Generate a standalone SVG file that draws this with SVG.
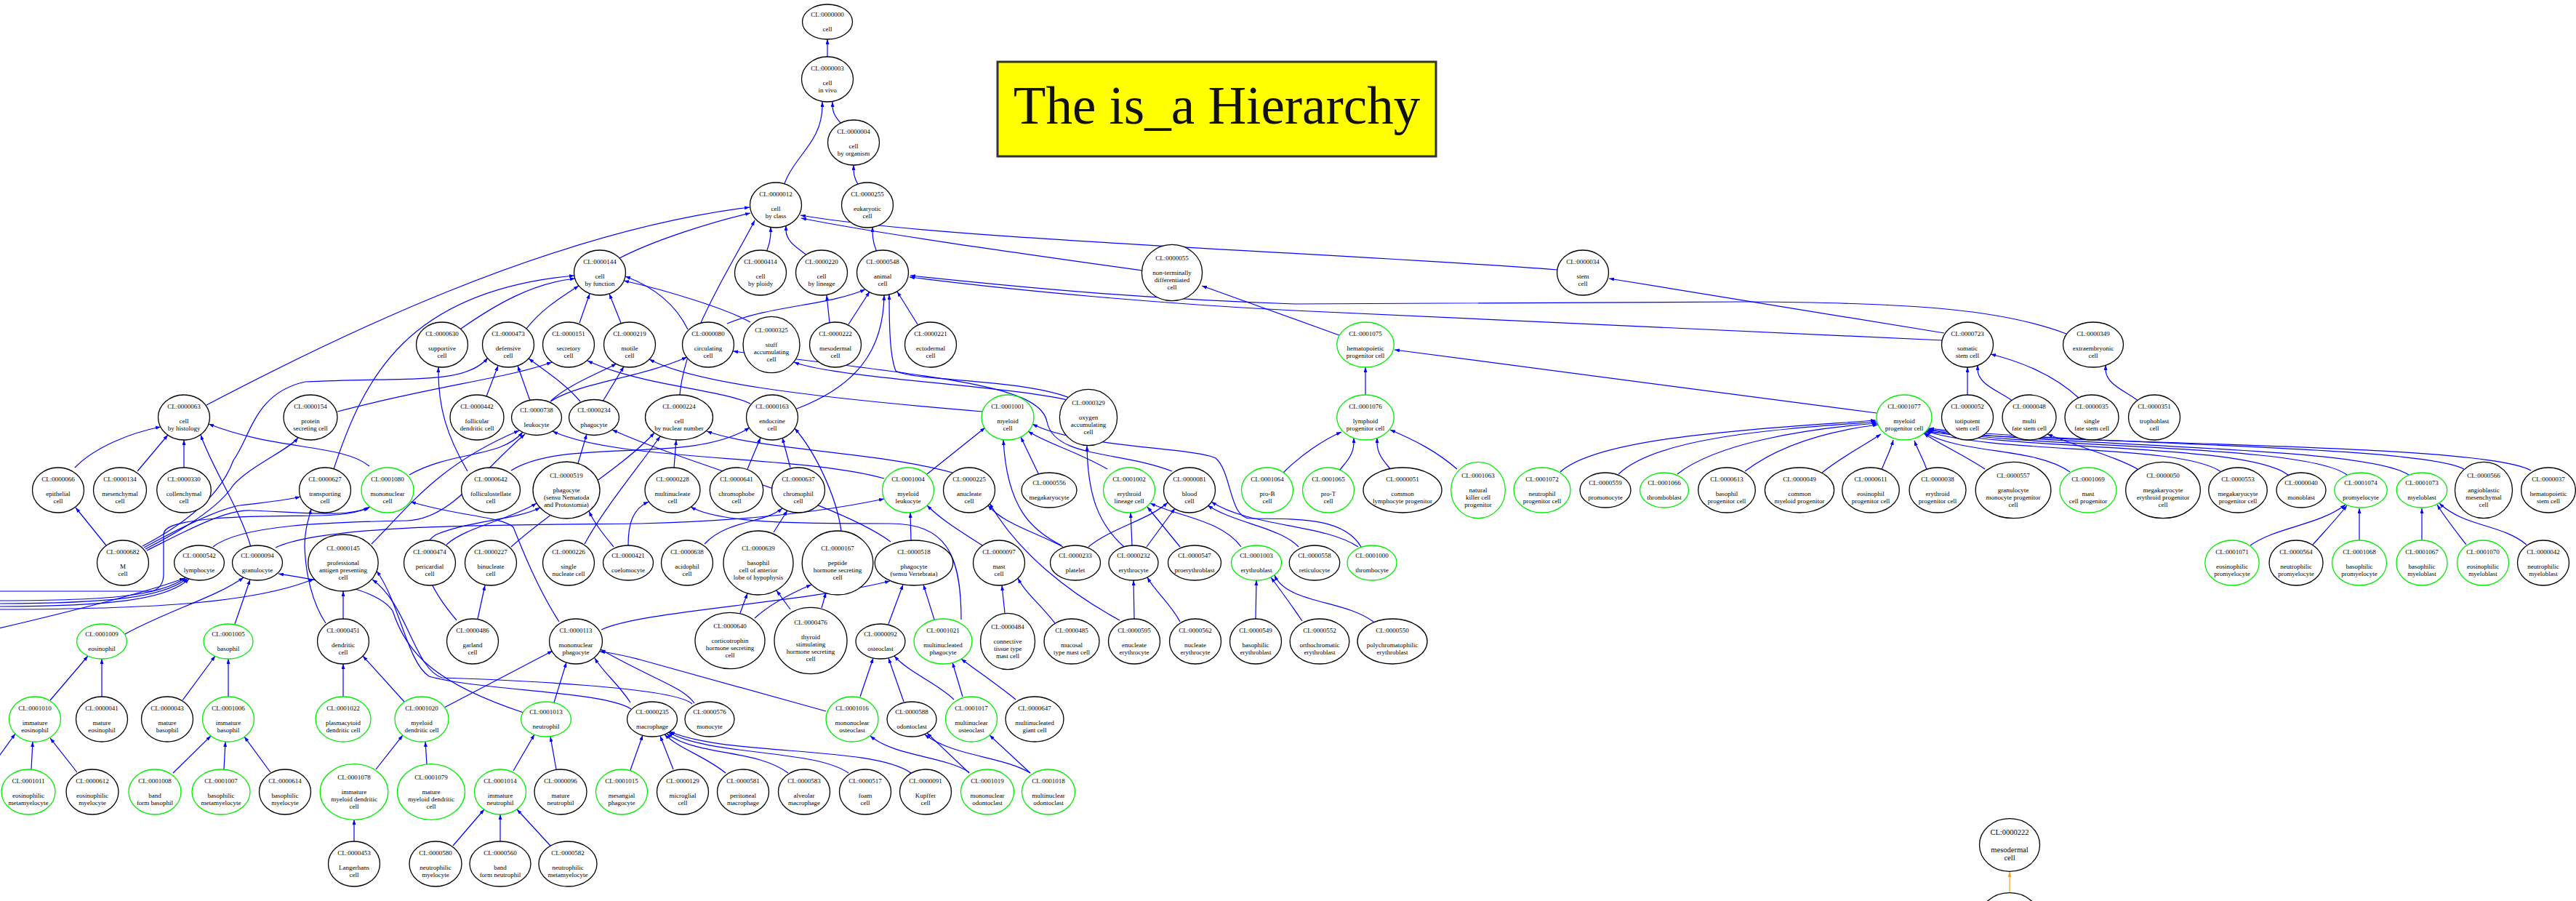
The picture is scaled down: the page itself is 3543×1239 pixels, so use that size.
<svg xmlns="http://www.w3.org/2000/svg" width="3543" height="1239" viewBox="0 0 3543 1239">
<defs>
<marker id="ah" viewBox="0 0 10 10" refX="10" refY="5" markerWidth="7" markerHeight="5" preserveAspectRatio="none" markerUnits="userSpaceOnUse" orient="auto"><path d="M0,0 L10,5 L0,10 z" fill="#0000ff"/></marker>
<marker id="ao" viewBox="0 0 10 10" refX="10" refY="5" markerWidth="7" markerHeight="5" preserveAspectRatio="none" markerUnits="userSpaceOnUse" orient="auto"><path d="M0,0 L10,5 L0,10 z" fill="#ffa500"/></marker>
</defs>
<style>
.e path{fill:none;stroke:#0000ff;stroke-width:1.2;marker-end:url(#ah)}
.e path.o{stroke:#ffa500;marker-end:url(#ao)}
.n ellipse{fill:#fff;stroke:#000;stroke-width:1.3}
.g ellipse{fill:#fff;stroke:#00ee00;stroke-width:1.3}
text{font-family:"Liberation Serif","Times New Roman",serif;font-size:9px;text-anchor:middle;fill:#000}
.big text{font-size:10.5px}
</style>
<rect width="3543" height="1239" fill="#fff"/>
<g id="title"><rect x="1372" y="85" width="603" height="130" fill="#ffff00" stroke="#333" stroke-width="3"/><text x="1673.5" y="170" style="font-size:73px;fill:#111">The is_a Hierarchy</text></g>
<g id="edges" class="e">
<path d="M1138,109 L1138,54"/>
<path d="M1170,196 C1170,173 1145,168 1145,145 L1145,140"/>
<path d="M1074,282 C1074,220 1131,207 1131,145 L1131,140"/>
<path d="M1191,282 C1191,260 1174,255 1174,233 L1174,227"/>
<path d="M1212,375 C1212,349 1200,344 1200,318 L1200,312"/>
<path d="M1048,375 C1048,349 1060,344 1060,318 L1060,312"/>
<path d="M1124,375 C1124,348 1081,343 1081,316 L1081,310"/>
<path d="M852,355 C900,330 980,305 1032,293"/>
<path d="M284,557 C450,470 750,320 1031,285"/>
<path d="M934,560 C934,470 1010,360 1038,303"/>
<path d="M1571,372 C1400,348 1200,320 1102,300"/>
<path d="M2142,371 C1800,345 1300,330 1101,296"/>
<path d="M2674,458 L2213,383"/>
<path d="M2672,468 L1780,427 C1600,418 1400,400 1251,381"/>
<path d="M2842,459 C2760,428 2650,416 2400,415 L1780,418 C1600,412 1450,400 1252,379"/>
<path d="M2706,574 L2706,505"/>
<path d="M2783,574 C2783,544 2720,538 2720,508 L2720,502"/>
<path d="M2860,548 C2830,520 2790,500 2738,487"/>
<path d="M2955,574 C2955,544 2896,538 2896,508 L2896,502"/>
<path d="M1842,461 L1653,393"/>
<path d="M1878,574 L1878,505"/>
<path d="M2581,568 L1918,481"/>
<path d="M1765,650 C1790,625 1820,605 1845,594"/>
<path d="M1832,674 C1832,644 1862,638 1862,608 L1862,602"/>
<path d="M1924,674 C1924,644 1894,638 1894,608 L1894,602"/>
<path d="M2004,645 C1975,620 1945,605 1912,591"/>
<path d="M2146,649 C2200,600 2420,590 2580,578"/>
<path d="M2226,652 C2280,600 2450,590 2581,580"/>
<path d="M2307,652 C2360,610 2480,590 2582,582"/>
<path d="M2400,648 C2450,610 2520,592 2583,584"/>
<path d="M2506,650 C2530,630 2560,615 2587,597"/>
<path d="M2588,646 C2594,630 2600,620 2604,605"/>
<path d="M2650,646 C2645,630 2638,620 2633,606"/>
<path d="M2730,645 C2700,625 2670,612 2646,596"/>
<path d="M2847,649 C2800,615 2700,625 2647,595"/>
<path d="M2940,645 C2910,628 2860,615 2816,597"/>
<path d="M3055,649 C3000,610 2750,625 2649,593"/>
<path d="M3147,653 C3090,610 2780,620 2650,592"/>
<path d="M3228,653 C3170,610 2800,618 2651,591"/>
<path d="M3313,653 C3250,612 2820,615 2652,590"/>
<path d="M3389,645 C3330,612 2850,612 2653,589"/>
<path d="M3481,647 C3420,610 2880,612 2648,594"/>
<path d="M3095,750 C3130,725 3190,722 3226,694"/>
<path d="M3181,749 C3195,733 3210,718 3228,695"/>
<path d="M3245,774 L3245,699"/>
<path d="M3331,774 L3331,699"/>
<path d="M3392,749 C3380,733 3365,715 3352,694"/>
<path d="M3475,749 C3440,720 3390,725 3355,692"/>
<path d="M634,452 C680,420 730,390 791,383"/>
<path d="M459,645 C500,520 560,400 790,379"/>
<path d="M724,452 C745,425 770,410 796,393"/>
<path d="M797,444 L811,404"/>
<path d="M854,444 L838,404"/>
<path d="M946,453 C930,420 900,395 860,380"/>
<path d="M1032,443 C1000,425 920,400 858,386"/>
<path d="M103,643 C130,615 180,595 221,587"/>
<path d="M189,648 L231,598"/>
<path d="M253,674 L253,605"/>
<path d="M345,752 C330,700 290,640 276,598"/>
<path d="M508,641 C470,610 380,620 287,583"/>
<path d="M146,750 L104,698"/>
<path d="M198,753 C240,730 300,700 330,695 C370,690 395,688 413,683"/>
<path d="M200,755 C245,732 300,700 321,667 C345,640 395,620 410,602"/>
<path d="M202,757 C250,733 310,700 345,702 C420,705 480,712 509,697"/>
<path d="M196,751 C240,728 300,690 321,633 C345,600 350,540 420,525 C560,518 640,530 671,492"/>
<path d="M-10,813 L205,813 C220,813 225,800 225,790 L225,735 C225,725 240,718 296,713 C400,705 470,716 507,698"/>
<path d="M-10,826 C150,826 220,820 256,794"/>
<path d="M-10,830 C150,830 225,822 258,795"/>
<path d="M-10,834 C150,834 230,825 260,796"/>
<path d="M-10,838 C200,838 350,830 432,796"/>
<path d="M-5,1045 L21,1009"/>
<path d="M-10,866 C80,845 200,815 254,795"/>
<path d="M643,648 C615,600 602,560 603,505"/>
<path d="M703,647 C780,600 950,640 1031,588"/>
<path d="M669,545 L685,503"/>
<path d="M729,551 L712,503"/>
<path d="M798,552 C780,530 750,510 727,493"/>
<path d="M464,566 C600,530 700,520 759,498"/>
<path d="M1032,555 C990,535 880,530 808,496"/>
<path d="M758,551 C780,530 820,515 848,500"/>
<path d="M829,552 L858,504"/>
<path d="M1351,566 C1100,545 950,525 893,494"/>
<path d="M757,552 C800,525 880,520 945,491"/>
<path d="M1612,648 C1540,620 1450,630 1440,580 C1430,530 1300,520 1008,483"/>
<path d="M563,653 C620,620 690,630 719,594"/>
<path d="M1216,658 C1100,625 850,635 760,593"/>
<path d="M293,752 C330,722 450,718 560,716 C620,714 660,650 722,597"/>
<path d="M511,748 C560,700 600,640 714,592"/>
<path d="M795,637 L807,597"/>
<path d="M1225,745 C1150,690 950,640 842,591"/>
<path d="M1000,445 C1060,420 1140,420 1190,398"/>
<path d="M1141,444 L1137,406"/>
<path d="M1167,446 L1196,401"/>
<path d="M1262,446 L1234,401"/>
<path d="M1096,562 C1180,530 1215,480 1216,406"/>
<path d="M1471,547 C1400,520 1260,525 1232,510 C1224,490 1223,450 1223,405"/>
<path d="M1468,550 C1380,530 1150,520 1092,498"/>
<path d="M1546,752 C1510,720 1496,680 1495,613"/>
<path d="M927,643 L930,605"/>
<path d="M1310,650 C1200,620 1050,620 972,593"/>
<path d="M804,748 C830,700 880,640 908,600"/>
<path d="M703,752 C760,700 860,640 900,595"/>
<path d="M1322,852 C1322,760 1300,720 1224,720 C1100,720 990,720 950,697"/>
<path d="M864,750 C864,720 870,700 892,690"/>
<path d="M1028,645 L1046,602"/>
<path d="M1087,643 L1076,602"/>
<path d="M1157,730 C1150,680 1120,620 1093,589"/>
<path d="M969,748 C1000,715 1050,720 1076,699"/>
<path d="M1064,732 L1083,702"/>
<path d="M1018,843 L1028,816"/>
<path d="M1087,838 L1068,812"/>
<path d="M1038,850 C1060,830 1090,815 1116,804"/>
<path d="M1130,836 L1136,815"/>
<path d="M1275,652 L1355,588"/>
<path d="M1428,651 L1404,601"/>
<path d="M1523,645 C1480,620 1440,610 1414,593"/>
<path d="M1460,750 C1420,730 1385,700 1380,605"/>
<path d="M1872,752 C1850,715 1800,713 1720,713 C1690,713 1695,650 1672,630 C1640,615 1480,615 1420,583"/>
<path d="M1253,743 L1252,705"/>
<path d="M1351,750 C1320,730 1295,715 1275,695"/>
<path d="M379,753 C450,720 700,722 880,720 C1050,716 1150,700 1216,686"/>
<path d="M1462,752 C1420,730 1380,720 1359,695"/>
<path d="M1540,853 C1470,815 1400,760 1361,692"/>
<path d="M1786,752 C1760,725 1700,720 1661,695"/>
<path d="M1577,752 L1616,699"/>
<path d="M1497,752 C1530,725 1580,715 1606,691"/>
<path d="M1868,752 C1820,720 1720,725 1666,690"/>
<path d="M1557,750 L1555,705"/>
<path d="M1623,752 L1578,697"/>
<path d="M1707,752 C1680,715 1620,710 1582,692"/>
<path d="M1727,851 L1728,798"/>
<path d="M1791,854 C1775,830 1760,810 1748,794"/>
<path d="M1889,855 C1850,825 1770,830 1753,791"/>
<path d="M1623,855 C1610,830 1590,815 1578,794"/>
<path d="M1560,851 L1559,798"/>
<path d="M1382,843 L1378,805"/>
<path d="M1451,857 C1430,830 1410,815 1400,795"/>
<path d="M1285,852 L1270,804"/>
<path d="M1222,858 L1242,804"/>
<path d="M827,866 C880,840 1100,830 1224,799"/>
<path d="M1183,958 L1201,905"/>
<path d="M1243,965 L1222,905"/>
<path d="M1312,962 C1290,940 1250,925 1230,902"/>
<path d="M1324,958 L1310,911"/>
<path d="M1397,962 C1370,940 1340,920 1322,906"/>
<path d="M1333,1063 L1275,1008"/>
<path d="M1333,1062 C1300,1040 1230,1040 1197,1012"/>
<path d="M1417,1063 C1380,1040 1310,1040 1272,1010"/>
<path d="M1417,1063 L1361,1011"/>
<path d="M926,1058 L908,1012"/>
<path d="M998,1063 C970,1040 935,1030 914,1010"/>
<path d="M1084,1063 C1040,1030 960,1040 917,1009"/>
<path d="M1167,1063 C1120,1030 980,1040 919,1007"/>
<path d="M1253,1063 C1200,1025 1000,1040 921,1006"/>
<path d="M867,1059 L884,1011"/>
<path d="M867,966 C850,940 830,925 818,905"/>
<path d="M955,967 C940,945 900,935 826,893"/>
<path d="M1136,978 L880,907 C860,902 845,898 825,896"/>
<path d="M611,973 L760,895"/>
<path d="M762,966 L779,911"/>
<path d="M769,855 C740,810 720,760 706,725 C690,710 630,710 565,690"/>
<path d="M868,975 C830,950 660,950 590,930 C560,910 550,830 518,785"/>
<path d="M952,968 C930,945 700,935 608,932 C570,920 560,830 512,797"/>
<path d="M472,851 L472,813"/>
<path d="M657,851 L667,805"/>
<path d="M628,853 C600,820 560,760 600,735 C650,715 710,715 743,698"/>
<path d="M614,749 C640,725 700,715 738,692"/>
<path d="M844,752 C830,735 818,720 810,703"/>
<path d="M172,872 C230,840 300,820 335,794"/>
<path d="M323,858 L344,797"/>
<path d="M720,980 C600,940 560,900 540,840 C520,810 450,800 383,789"/>
<path d="M69,963 L121,902"/>
<path d="M140,958 L140,906"/>
<path d="M251,963 L296,902"/>
<path d="M314,958 L314,906"/>
<path d="M43,1058 L45,1020"/>
<path d="M106,1062 L69,1015"/>
<path d="M238,1063 L290,1012"/>
<path d="M308,1058 L310,1020"/>
<path d="M372,1062 L336,1013"/>
<path d="M448,857 C430,830 420,790 419,750 C419,730 424,715 428,700"/>
<path d="M472,958 L472,913"/>
<path d="M556,965 L499,902"/>
<path d="M517,1058 L554,1011"/>
<path d="M587,1051 L585,1020"/>
<path d="M487,1158 L487,1127"/>
<path d="M706,1060 L735,1010"/>
<path d="M765,1058 L757,1013"/>
<path d="M623,1163 L666,1113"/>
<path d="M688,1157 L688,1120"/>
<path d="M757,1163 L711,1113"/>
<path class="o" d="M2764,1228 L2764,1199"/>
</g>
<g id="nodes">
<g id="CL_0000000" class="n" transform="translate(1138,30)"><ellipse rx="34.5" ry="24"/><text y="-6.8">CL:0000000</text><text y="13.2">cell</text></g>
<g id="CL_0000003" class="n" transform="translate(1138,109)"><ellipse rx="35.5" ry="31"/><text y="-11.8">CL:0000003</text><text y="8.2">cell</text><text y="18.2">in vivo</text></g>
<g id="CL_0000004" class="n" transform="translate(1174,196)"><ellipse rx="35.5" ry="31"/><text y="-11.8">CL:0000004</text><text y="8.2">cell</text><text y="18.2">by organism</text></g>
<g id="CL_0000012" class="n" transform="translate(1067,282)"><ellipse rx="35.5" ry="31"/><text y="-11.8">CL:0000012</text><text y="8.2">cell</text><text y="18.2">by class</text></g>
<g id="CL_0000255" class="n" transform="translate(1193,282)"><ellipse rx="35.5" ry="31"/><text y="-11.8">CL:0000255</text><text y="8.2">eukaryotic</text><text y="18.2">cell</text></g>
<g id="CL_0000144" class="n" transform="translate(825,375)"><ellipse rx="35.5" ry="31"/><text y="-11.8">CL:0000144</text><text y="8.2">cell</text><text y="18.2">by function</text></g>
<g id="CL_0000414" class="n" transform="translate(1046,375)"><ellipse rx="35.5" ry="31"/><text y="-11.8">CL:0000414</text><text y="8.2">cell</text><text y="18.2">by ploidy</text></g>
<g id="CL_0000220" class="n" transform="translate(1130,375)"><ellipse rx="35.5" ry="31"/><text y="-11.8">CL:0000220</text><text y="8.2">cell</text><text y="18.2">by lineage</text></g>
<g id="CL_0000548" class="n" transform="translate(1214,375)"><ellipse rx="35.5" ry="31"/><text y="-11.8">CL:0000548</text><text y="8.2">animal</text><text y="18.2">cell</text></g>
<g id="CL_0000055" class="n" transform="translate(1612,375)"><ellipse rx="41.6" ry="38.7"/><text y="-16.8">CL:0000055</text><text y="3.2">non-terminally</text><text y="13.2">differentiated</text><text y="23.2">cell</text></g>
<g id="CL_0000034" class="n" transform="translate(2177,375)"><ellipse rx="35.5" ry="31"/><text y="-11.8">CL:0000034</text><text y="8.2">stem</text><text y="18.2">cell</text></g>
<g id="CL_0000630" class="n" transform="translate(608,474)"><ellipse rx="35.5" ry="31"/><text y="-11.8">CL:0000630</text><text y="8.2">supportive</text><text y="18.2">cell</text></g>
<g id="CL_0000473" class="n" transform="translate(699,474)"><ellipse rx="35.5" ry="31"/><text y="-11.8">CL:0000473</text><text y="8.2">defensive</text><text y="18.2">cell</text></g>
<g id="CL_0000151" class="n" transform="translate(782,474)"><ellipse rx="35.5" ry="31"/><text y="-11.8">CL:0000151</text><text y="8.2">secretory</text><text y="18.2">cell</text></g>
<g id="CL_0000219" class="n" transform="translate(866,474)"><ellipse rx="35.5" ry="31"/><text y="-11.8">CL:0000219</text><text y="8.2">motile</text><text y="18.2">cell</text></g>
<g id="CL_0000080" class="n" transform="translate(974,474)"><ellipse rx="35.5" ry="31"/><text y="-11.8">CL:0000080</text><text y="8.2">circulating</text><text y="18.2">cell</text></g>
<g id="CL_0000325" class="n" transform="translate(1061,474)"><ellipse rx="39" ry="38.7"/><text y="-16.8">CL:0000325</text><text y="3.2">stuff</text><text y="13.2">accumulating</text><text y="23.2">cell</text></g>
<g id="CL_0000222" class="n" transform="translate(1149,474)"><ellipse rx="35.5" ry="31"/><text y="-11.8">CL:0000222</text><text y="8.2">mesodermal</text><text y="18.2">cell</text></g>
<g id="CL_0000221" class="n" transform="translate(1280,474)"><ellipse rx="35.5" ry="31"/><text y="-11.8">CL:0000221</text><text y="8.2">ectodermal</text><text y="18.2">cell</text></g>
<g id="CL_0001075" class="g" transform="translate(1878,474)"><ellipse rx="39.3" ry="31"/><text y="-11.8">CL:0001075</text><text y="8.2">hematopoietic</text><text y="18.2">progenitor cell</text></g>
<g id="CL_0000723" class="n" transform="translate(2706,474)"><ellipse rx="35.5" ry="31"/><text y="-11.8">CL:0000723</text><text y="8.2">somatic</text><text y="18.2">stem cell</text></g>
<g id="CL_0000349" class="n" transform="translate(2879,474)"><ellipse rx="41.5" ry="31"/><text y="-11.8">CL:0000349</text><text y="8.2">extraembryonic</text><text y="18.2">cell</text></g>
<g id="CL_0000063" class="n" transform="translate(253,574)"><ellipse rx="35.5" ry="31"/><text y="-11.8">CL:0000063</text><text y="8.2">cell</text><text y="18.2">by histology</text></g>
<g id="CL_0000154" class="n" transform="translate(427,574)"><ellipse rx="37" ry="31"/><text y="-11.8">CL:0000154</text><text y="8.2">protein</text><text y="18.2">secreting cell</text></g>
<g id="CL_0000442" class="n" transform="translate(656,574)"><ellipse rx="37" ry="31"/><text y="-11.8">CL:0000442</text><text y="8.2">follicular</text><text y="18.2">dendritic cell</text></g>
<g id="CL_0000738" class="n" transform="translate(738,574)"><ellipse rx="34.5" ry="24.5"/><text y="-6.8">CL:0000738</text><text y="13.2">leukocyte</text></g>
<g id="CL_0000234" class="n" transform="translate(817,574)"><ellipse rx="34.5" ry="24.5"/><text y="-6.8">CL:0000234</text><text y="13.2">phagocyte</text></g>
<g id="CL_0000224" class="n" transform="translate(934,574)"><ellipse rx="46.5" ry="31"/><text y="-11.8">CL:0000224</text><text y="8.2">cell</text><text y="18.2">by nuclear number</text></g>
<g id="CL_0000163" class="n" transform="translate(1062,574)"><ellipse rx="35.5" ry="31"/><text y="-11.8">CL:0000163</text><text y="8.2">endocrine</text><text y="18.2">cell</text></g>
<g id="CL_0001001" class="g" transform="translate(1386,574)"><ellipse rx="36" ry="31"/><text y="-11.8">CL:0001001</text><text y="8.2">myeloid</text><text y="18.2">cell</text></g>
<g id="CL_0000329" class="n" transform="translate(1497,574)"><ellipse rx="39.6" ry="38.7"/><text y="-16.8">CL:0000329</text><text y="3.2">oxygen</text><text y="13.2">accumulating</text><text y="23.2">cell</text></g>
<g id="CL_0001076" class="g" transform="translate(1878,574)"><ellipse rx="39.3" ry="31"/><text y="-11.8">CL:0001076</text><text y="8.2">lymphoid</text><text y="18.2">progenitor cell</text></g>
<g id="CL_0001077" class="g" transform="translate(2619,574)"><ellipse rx="38" ry="31"/><text y="-11.8">CL:0001077</text><text y="8.2">myeloid</text><text y="18.2">progenitor cell</text></g>
<g id="CL_0000052" class="n" transform="translate(2706,574)"><ellipse rx="35.5" ry="31"/><text y="-11.8">CL:0000052</text><text y="8.2">totipotent</text><text y="18.2">stem cell</text></g>
<g id="CL_0000048" class="n" transform="translate(2791,574)"><ellipse rx="37" ry="31"/><text y="-11.8">CL:0000048</text><text y="8.2">multi</text><text y="18.2">fate stem cell</text></g>
<g id="CL_0000035" class="n" transform="translate(2877,574)"><ellipse rx="37" ry="31"/><text y="-11.8">CL:0000035</text><text y="8.2">single</text><text y="18.2">fate stem cell</text></g>
<g id="CL_0000351" class="n" transform="translate(2963,574)"><ellipse rx="35.5" ry="31"/><text y="-11.8">CL:0000351</text><text y="8.2">trophoblast</text><text y="18.2">cell</text></g>
<g id="CL_0000066" class="n" transform="translate(80,674)"><ellipse rx="35.5" ry="31"/><text y="-11.8">CL:0000066</text><text y="8.2">epithelial</text><text y="18.2">cell</text></g>
<g id="CL_0000134" class="n" transform="translate(165,674)"><ellipse rx="36.5" ry="31"/><text y="-11.8">CL:0000134</text><text y="8.2">mesenchymal</text><text y="18.2">cell</text></g>
<g id="CL_0000330" class="n" transform="translate(253,674)"><ellipse rx="37.3" ry="31"/><text y="-11.8">CL:0000330</text><text y="8.2">collenchymal</text><text y="18.2">cell</text></g>
<g id="CL_0000627" class="n" transform="translate(447,674)"><ellipse rx="35.5" ry="31"/><text y="-11.8">CL:0000627</text><text y="8.2">transporting</text><text y="18.2">cell</text></g>
<g id="CL_0001080" class="g" transform="translate(533,674)"><ellipse rx="36" ry="31"/><text y="-11.8">CL:0001080</text><text y="8.2">mononuclear</text><text y="18.2">cell</text></g>
<g id="CL_0000642" class="n" transform="translate(675,674)"><ellipse rx="40.5" ry="31"/><text y="-11.8">CL:0000642</text><text y="8.2">folliculostellate</text><text y="18.2">cell</text></g>
<g id="CL_0000519" class="n" transform="translate(779,674)"><ellipse rx="46" ry="39"/><text y="-16.8">CL:0000519</text><text y="3.2">phagocyte</text><text y="13.2">(sensu Nematoda</text><text y="23.2">and Protostomia)</text></g>
<g id="CL_0000228" class="n" transform="translate(925,674)"><ellipse rx="38" ry="31"/><text y="-11.8">CL:0000228</text><text y="8.2">multinucleate</text><text y="18.2">cell</text></g>
<g id="CL_0000641" class="n" transform="translate(1013,674)"><ellipse rx="36.7" ry="31"/><text y="-11.8">CL:0000641</text><text y="8.2">chromophobe</text><text y="18.2">cell</text></g>
<g id="CL_0000637" class="n" transform="translate(1098,674)"><ellipse rx="36.5" ry="31"/><text y="-11.8">CL:0000637</text><text y="8.2">chromophil</text><text y="18.2">cell</text></g>
<g id="CL_0001004" class="g" transform="translate(1249,674)"><ellipse rx="35.5" ry="31"/><text y="-11.8">CL:0001004</text><text y="8.2">myeloid</text><text y="18.2">leukocyte</text></g>
<g id="CL_0000225" class="n" transform="translate(1333,674)"><ellipse rx="35.5" ry="31"/><text y="-11.8">CL:0000225</text><text y="8.2">anucleate</text><text y="18.2">cell</text></g>
<g id="CL_0000556" class="n" transform="translate(1443,674)"><ellipse rx="38" ry="24"/><text y="-6.8">CL:0000556</text><text y="13.2">megakaryocyte</text></g>
<g id="CL_0001002" class="g" transform="translate(1553,674)"><ellipse rx="35.5" ry="31"/><text y="-11.8">CL:0001002</text><text y="8.2">erythroid</text><text y="18.2">lineage cell</text></g>
<g id="CL_0000081" class="n" transform="translate(1636,674)"><ellipse rx="35.5" ry="31"/><text y="-11.8">CL:0000081</text><text y="8.2">blood</text><text y="18.2">cell</text></g>
<g id="CL_0001064" class="g" transform="translate(1743,674)"><ellipse rx="35.5" ry="31"/><text y="-11.8">CL:0001064</text><text y="8.2">pro-B</text><text y="18.2">cell</text></g>
<g id="CL_0001065" class="g" transform="translate(1827,674)"><ellipse rx="35.5" ry="31"/><text y="-11.8">CL:0001065</text><text y="8.2">pro-T</text><text y="18.2">cell</text></g>
<g id="CL_0000051" class="n" transform="translate(1929,674)"><ellipse rx="54" ry="31"/><text y="-11.8">CL:0000051</text><text y="8.2">common</text><text y="18.2">lymphocyte progenitor</text></g>
<g id="CL_0001063" class="g" transform="translate(2033,674)"><ellipse rx="37.3" ry="38.7"/><text y="-16.8">CL:0001063</text><text y="3.2">natural</text><text y="13.2">killer cell</text><text y="23.2">progenitor</text></g>
<g id="CL_0001072" class="g" transform="translate(2121,674)"><ellipse rx="39" ry="31"/><text y="-11.8">CL:0001072</text><text y="8.2">neutrophil</text><text y="18.2">progenitor cell</text></g>
<g id="CL_0000559" class="n" transform="translate(2208,674)"><ellipse rx="35" ry="24"/><text y="-6.8">CL:0000559</text><text y="13.2">promonocyte</text></g>
<g id="CL_0001066" class="g" transform="translate(2289,674)"><ellipse rx="33.5" ry="24"/><text y="-6.8">CL:0001066</text><text y="13.2">thromboblast</text></g>
<g id="CL_0000613" class="n" transform="translate(2375,674)"><ellipse rx="39.3" ry="31"/><text y="-11.8">CL:0000613</text><text y="8.2">basophil</text><text y="18.2">progenitor cell</text></g>
<g id="CL_0000049" class="n" transform="translate(2475,674)"><ellipse rx="47.6" ry="31"/><text y="-11.8">CL:0000049</text><text y="8.2">common</text><text y="18.2">myeloid progenitor</text></g>
<g id="CL_0000611" class="n" transform="translate(2573,674)"><ellipse rx="39.3" ry="31"/><text y="-11.8">CL:0000611</text><text y="8.2">eosinophil</text><text y="18.2">progenitor cell</text></g>
<g id="CL_0000038" class="n" transform="translate(2665,674)"><ellipse rx="39" ry="31"/><text y="-11.8">CL:0000038</text><text y="8.2">erythroid</text><text y="18.2">progenitor cell</text></g>
<g id="CL_0000557" class="n" transform="translate(2769,674)"><ellipse rx="51.8" ry="38.7"/><text y="-16.8">CL:0000557</text><text y="3.2">granulocyte</text><text y="13.2">monocyte progenitor</text><text y="23.2">cell</text></g>
<g id="CL_0001069" class="g" transform="translate(2872,674)"><ellipse rx="39" ry="31"/><text y="-11.8">CL:0001069</text><text y="8.2">mast</text><text y="18.2">cell progenitor</text></g>
<g id="CL_0000050" class="n" transform="translate(2975,674)"><ellipse rx="51.3" ry="38.7"/><text y="-16.8">CL:0000050</text><text y="3.2">megakaryocyte</text><text y="13.2">erythroid progenitor</text><text y="23.2">cell</text></g>
<g id="CL_0000553" class="n" transform="translate(3078,674)"><ellipse rx="40.3" ry="31"/><text y="-11.8">CL:0000553</text><text y="8.2">megakaryocyte</text><text y="18.2">progenitor cell</text></g>
<g id="CL_0000040" class="n" transform="translate(3165,674)"><ellipse rx="34" ry="24"/><text y="-6.8">CL:0000040</text><text y="13.2">monoblast</text></g>
<g id="CL_0001074" class="g" transform="translate(3247,674)"><ellipse rx="36.3" ry="24"/><text y="-6.8">CL:0001074</text><text y="13.2">promyelocyte</text></g>
<g id="CL_0001073" class="g" transform="translate(3331,674)"><ellipse rx="34.8" ry="24"/><text y="-6.8">CL:0001073</text><text y="13.2">myeloblast</text></g>
<g id="CL_0000566" class="n" transform="translate(3416,674)"><ellipse rx="39.5" ry="38.7"/><text y="-16.8">CL:0000566</text><text y="3.2">angioblastic</text><text y="13.2">mesenchymal</text><text y="23.2">cell</text></g>
<g id="CL_0000037" class="n" transform="translate(3505,674)"><ellipse rx="37.4" ry="31"/><text y="-11.8">CL:0000037</text><text y="8.2">hematopoietic</text><text y="18.2">stem cell</text></g>
<g id="CL_0000682" class="n" transform="translate(169,774)"><ellipse rx="35.5" ry="31"/><text y="-11.8">CL:0000682</text><text y="8.2">M</text><text y="18.2">cell</text></g>
<g id="CL_0000542" class="n" transform="translate(274,774)"><ellipse rx="34.4" ry="24"/><text y="-6.8">CL:0000542</text><text y="13.2">lymphocyte</text></g>
<g id="CL_0000094" class="n" transform="translate(354,774)"><ellipse rx="34.5" ry="24"/><text y="-6.8">CL:0000094</text><text y="13.2">granulocyte</text></g>
<g id="CL_0000145" class="n" transform="translate(472,774)"><ellipse rx="48.2" ry="39"/><text y="-16.8">CL:0000145</text><text y="3.2">professional</text><text y="13.2">antigen presenting</text><text y="23.2">cell</text></g>
<g id="CL_0000474" class="n" transform="translate(591,774)"><ellipse rx="35.5" ry="31"/><text y="-11.8">CL:0000474</text><text y="8.2">pericardial</text><text y="18.2">cell</text></g>
<g id="CL_0000227" class="n" transform="translate(675,774)"><ellipse rx="35.5" ry="31"/><text y="-11.8">CL:0000227</text><text y="8.2">binucleate</text><text y="18.2">cell</text></g>
<g id="CL_0000226" class="n" transform="translate(782,774)"><ellipse rx="35.5" ry="31"/><text y="-11.8">CL:0000226</text><text y="8.2">single</text><text y="18.2">nucleate cell</text></g>
<g id="CL_0000421" class="n" transform="translate(864,774)"><ellipse rx="34.5" ry="24"/><text y="-6.8">CL:0000421</text><text y="13.2">coelomocyte</text></g>
<g id="CL_0000638" class="n" transform="translate(945,774)"><ellipse rx="35.5" ry="31"/><text y="-11.8">CL:0000638</text><text y="8.2">acidophil</text><text y="18.2">cell</text></g>
<g id="CL_0000639" class="n" transform="translate(1043,774)"><ellipse rx="48" ry="44"/><text y="-16.8">CL:0000639</text><text y="3.2">basophil</text><text y="13.2">cell of anterior</text><text y="23.2">lobe of hypophysis</text></g>
<g id="CL_0000167" class="n" transform="translate(1152,774)"><ellipse rx="48.8" ry="44"/><text y="-16.8">CL:0000167</text><text y="3.2">peptide</text><text y="13.2">hormone secreting</text><text y="23.2">cell</text></g>
<g id="CL_0000518" class="n" transform="translate(1257,774)"><ellipse rx="53.7" ry="31"/><text y="-11.8">CL:0000518</text><text y="8.2">phagocyte</text><text y="18.2">(sensu Vertebrata)</text></g>
<g id="CL_0000097" class="n" transform="translate(1374,774)"><ellipse rx="35.5" ry="31"/><text y="-11.8">CL:0000097</text><text y="8.2">mast</text><text y="18.2">cell</text></g>
<g id="CL_0000233" class="n" transform="translate(1479,774)"><ellipse rx="34.5" ry="24"/><text y="-6.8">CL:0000233</text><text y="13.2">platelet</text></g>
<g id="CL_0000232" class="n" transform="translate(1559,774)"><ellipse rx="34" ry="24"/><text y="-6.8">CL:0000232</text><text y="13.2">erythrocyte</text></g>
<g id="CL_0000547" class="n" transform="translate(1643,774)"><ellipse rx="36.5" ry="24"/><text y="-6.8">CL:0000547</text><text y="13.2">proerythroblast</text></g>
<g id="CL_0001003" class="g" transform="translate(1728,774)"><ellipse rx="34.5" ry="24"/><text y="-6.8">CL:0001003</text><text y="13.2">erythroblast</text></g>
<g id="CL_0000558" class="n" transform="translate(1808,774)"><ellipse rx="34.7" ry="24"/><text y="-6.8">CL:0000558</text><text y="13.2">reticulocyte</text></g>
<g id="CL_0001000" class="g" transform="translate(1887,774)"><ellipse rx="34" ry="24"/><text y="-6.8">CL:0001000</text><text y="13.2">thrombocyte</text></g>
<g id="CL_0001071" class="g" transform="translate(3070,774)"><ellipse rx="37.2" ry="31"/><text y="-11.8">CL:0001071</text><text y="8.2">eosinophilic</text><text y="18.2">promyelocyte</text></g>
<g id="CL_0000564" class="n" transform="translate(3158,774)"><ellipse rx="37" ry="31"/><text y="-11.8">CL:0000564</text><text y="8.2">neutrophilic</text><text y="18.2">promyelocyte</text></g>
<g id="CL_0001068" class="g" transform="translate(3245,774)"><ellipse rx="37.5" ry="31"/><text y="-11.8">CL:0001068</text><text y="8.2">basophilic</text><text y="18.2">promyelocyte</text></g>
<g id="CL_0001067" class="g" transform="translate(3331,774)"><ellipse rx="35" ry="31"/><text y="-11.8">CL:0001067</text><text y="8.2">basophilic</text><text y="18.2">myeloblast</text></g>
<g id="CL_0001070" class="g" transform="translate(3415,774)"><ellipse rx="35.5" ry="31"/><text y="-11.8">CL:0001070</text><text y="8.2">eosinophilic</text><text y="18.2">myeloblast</text></g>
<g id="CL_0000042" class="n" transform="translate(3498,774)"><ellipse rx="35.5" ry="31"/><text y="-11.8">CL:0000042</text><text y="8.2">neutrophilic</text><text y="18.2">myeloblast</text></g>
<g id="CL_0001009" class="g" transform="translate(140,882)"><ellipse rx="34.4" ry="24"/><text y="-6.8">CL:0001009</text><text y="13.2">eosinophil</text></g>
<g id="CL_0001005" class="g" transform="translate(314,882)"><ellipse rx="34" ry="24"/><text y="-6.8">CL:0001005</text><text y="13.2">basophil</text></g>
<g id="CL_0000451" class="n" transform="translate(472,882)"><ellipse rx="35.5" ry="31"/><text y="-11.8">CL:0000451</text><text y="8.2">dendritic</text><text y="18.2">cell</text></g>
<g id="CL_0000486" class="n" transform="translate(650,882)"><ellipse rx="35.5" ry="31"/><text y="-11.8">CL:0000486</text><text y="8.2">garland</text><text y="18.2">cell</text></g>
<g id="CL_0000113" class="n" transform="translate(792,882)"><ellipse rx="36.5" ry="31"/><text y="-11.8">CL:0000113</text><text y="8.2">mononuclear</text><text y="18.2">phagocyte</text></g>
<g id="CL_0000640" class="n" transform="translate(1004,881)"><ellipse rx="48" ry="38.7"/><text y="-16.8">CL:0000640</text><text y="3.2">corticotrophin</text><text y="13.2">hormone secreting</text><text y="23.2">cell</text></g>
<g id="CL_0000476" class="n" transform="translate(1115,881)"><ellipse rx="50" ry="45.7"/><text y="-21.8">CL:0000476</text><text y="-1.8">thyroid</text><text y="8.2">stimulating</text><text y="18.2">hormone secreting</text><text y="28.2">cell</text></g>
<g id="CL_0000092" class="n" transform="translate(1211,882)"><ellipse rx="34" ry="24"/><text y="-6.8">CL:0000092</text><text y="13.2">osteoclast</text></g>
<g id="CL_0001021" class="g" transform="translate(1297,882)"><ellipse rx="40" ry="31"/><text y="-11.8">CL:0001021</text><text y="8.2">multinucleated</text><text y="18.2">phagocyte</text></g>
<g id="CL_0000484" class="n" transform="translate(1386,882)"><ellipse rx="37.5" ry="38.7"/><text y="-16.8">CL:0000484</text><text y="3.2">connective</text><text y="13.2">tissue type</text><text y="23.2">mast cell</text></g>
<g id="CL_0000485" class="n" transform="translate(1474,882)"><ellipse rx="38" ry="31"/><text y="-11.8">CL:0000485</text><text y="8.2">mucosal</text><text y="18.2">type mast cell</text></g>
<g id="CL_0000595" class="n" transform="translate(1560,882)"><ellipse rx="35.5" ry="31"/><text y="-11.8">CL:0000595</text><text y="8.2">enucleate</text><text y="18.2">erythrocyte</text></g>
<g id="CL_0000562" class="n" transform="translate(1644,882)"><ellipse rx="35.5" ry="31"/><text y="-11.8">CL:0000562</text><text y="8.2">nucleate</text><text y="18.2">erythrocyte</text></g>
<g id="CL_0000549" class="n" transform="translate(1727,882)"><ellipse rx="35.5" ry="31"/><text y="-11.8">CL:0000549</text><text y="8.2">basophilic</text><text y="18.2">erythroblast</text></g>
<g id="CL_0000552" class="n" transform="translate(1815,882)"><ellipse rx="40.8" ry="31"/><text y="-11.8">CL:0000552</text><text y="8.2">orthochromatic</text><text y="18.2">erythroblast</text></g>
<g id="CL_0000550" class="n" transform="translate(1915,882)"><ellipse rx="48" ry="31"/><text y="-11.8">CL:0000550</text><text y="8.2">polychromatophilic</text><text y="18.2">erythroblast</text></g>
<g id="CL_0001010" class="g" transform="translate(48,989)"><ellipse rx="35.5" ry="31"/><text y="-11.8">CL:0001010</text><text y="8.2">immature</text><text y="18.2">eosinophil</text></g>
<g id="CL_0000041" class="n" transform="translate(140,989)"><ellipse rx="35.5" ry="31"/><text y="-11.8">CL:0000041</text><text y="8.2">mature</text><text y="18.2">eosinophil</text></g>
<g id="CL_0000043" class="n" transform="translate(230,989)"><ellipse rx="35.5" ry="31"/><text y="-11.8">CL:0000043</text><text y="8.2">mature</text><text y="18.2">basophil</text></g>
<g id="CL_0001006" class="g" transform="translate(314,989)"><ellipse rx="35.5" ry="31"/><text y="-11.8">CL:0001006</text><text y="8.2">immature</text><text y="18.2">basophil</text></g>
<g id="CL_0001022" class="g" transform="translate(472,989)"><ellipse rx="38" ry="31"/><text y="-11.8">CL:0001022</text><text y="8.2">plasmacytoid</text><text y="18.2">dendritic cell</text></g>
<g id="CL_0001020" class="g" transform="translate(580,989)"><ellipse rx="37" ry="31"/><text y="-11.8">CL:0001020</text><text y="8.2">myeloid</text><text y="18.2">dendritic cell</text></g>
<g id="CL_0001013" class="g" transform="translate(751,989)"><ellipse rx="34.4" ry="24"/><text y="-6.8">CL:0001013</text><text y="13.2">neutrophil</text></g>
<g id="CL_0000235" class="n" transform="translate(897,989)"><ellipse rx="34.5" ry="24"/><text y="-6.8">CL:0000235</text><text y="13.2">macrophage</text></g>
<g id="CL_0000576" class="n" transform="translate(976,989)"><ellipse rx="34" ry="24"/><text y="-6.8">CL:0000576</text><text y="13.2">monocyte</text></g>
<g id="CL_0001016" class="g" transform="translate(1172,989)"><ellipse rx="36" ry="31"/><text y="-11.8">CL:0001016</text><text y="8.2">mononuclear</text><text y="18.2">osteoclast</text></g>
<g id="CL_0000588" class="n" transform="translate(1254,989)"><ellipse rx="34" ry="24"/><text y="-6.8">CL:0000588</text><text y="13.2">odontoclast</text></g>
<g id="CL_0001017" class="g" transform="translate(1336,989)"><ellipse rx="35.5" ry="31"/><text y="-11.8">CL:0001017</text><text y="8.2">multinuclear</text><text y="18.2">osteoclast</text></g>
<g id="CL_0000647" class="n" transform="translate(1423,989)"><ellipse rx="40" ry="31"/><text y="-11.8">CL:0000647</text><text y="8.2">multinucleated</text><text y="18.2">giant cell</text></g>
<g id="CL_0001011" class="g" transform="translate(39,1089)"><ellipse rx="37" ry="31"/><text y="-11.8">CL:0001011</text><text y="8.2">eosinophilic</text><text y="18.2">metamyelocyte</text></g>
<g id="CL_0000612" class="n" transform="translate(127,1089)"><ellipse rx="36" ry="31"/><text y="-11.8">CL:0000612</text><text y="8.2">eosinophilic</text><text y="18.2">myelocyte</text></g>
<g id="CL_0001008" class="g" transform="translate(213,1089)"><ellipse rx="36" ry="31"/><text y="-11.8">CL:0001008</text><text y="8.2">band</text><text y="18.2">form basophil</text></g>
<g id="CL_0001007" class="g" transform="translate(304,1089)"><ellipse rx="40" ry="31"/><text y="-11.8">CL:0001007</text><text y="8.2">basophilic</text><text y="18.2">metamyelocyte</text></g>
<g id="CL_0000614" class="n" transform="translate(392,1089)"><ellipse rx="35.5" ry="31"/><text y="-11.8">CL:0000614</text><text y="8.2">basophilic</text><text y="18.2">myelocyte</text></g>
<g id="CL_0001078" class="g" transform="translate(487,1089)"><ellipse rx="46.8" ry="38.3"/><text y="-16.8">CL:0001078</text><text y="3.2">immature</text><text y="13.2">myeloid dendritic</text><text y="23.2">cell</text></g>
<g id="CL_0001079" class="g" transform="translate(593,1089)"><ellipse rx="46.5" ry="38.3"/><text y="-16.8">CL:0001079</text><text y="3.2">mature</text><text y="13.2">myeloid dendritic</text><text y="23.2">cell</text></g>
<g id="CL_0001014" class="g" transform="translate(688,1089)"><ellipse rx="35.5" ry="31"/><text y="-11.8">CL:0001014</text><text y="8.2">immature</text><text y="18.2">neutrophil</text></g>
<g id="CL_0000096" class="n" transform="translate(771,1089)"><ellipse rx="36" ry="31"/><text y="-11.8">CL:0000096</text><text y="8.2">mature</text><text y="18.2">neutrophil</text></g>
<g id="CL_0001015" class="g" transform="translate(855,1089)"><ellipse rx="35.5" ry="31"/><text y="-11.8">CL:0001015</text><text y="8.2">mesangial</text><text y="18.2">phagocyte</text></g>
<g id="CL_0000129" class="n" transform="translate(939,1089)"><ellipse rx="35.5" ry="31"/><text y="-11.8">CL:0000129</text><text y="8.2">microglial</text><text y="18.2">cell</text></g>
<g id="CL_0000581" class="n" transform="translate(1022,1089)"><ellipse rx="35.5" ry="31"/><text y="-11.8">CL:0000581</text><text y="8.2">peritoneal</text><text y="18.2">macrophage</text></g>
<g id="CL_0000583" class="n" transform="translate(1106,1089)"><ellipse rx="35.5" ry="31"/><text y="-11.8">CL:0000583</text><text y="8.2">alveolar</text><text y="18.2">macrophage</text></g>
<g id="CL_0000517" class="n" transform="translate(1190,1089)"><ellipse rx="35.5" ry="31"/><text y="-11.8">CL:0000517</text><text y="8.2">foam</text><text y="18.2">cell</text></g>
<g id="CL_0000091" class="n" transform="translate(1273,1089)"><ellipse rx="35.5" ry="31"/><text y="-11.8">CL:0000091</text><text y="8.2">Kupffer</text><text y="18.2">cell</text></g>
<g id="CL_0001019" class="g" transform="translate(1358,1089)"><ellipse rx="36.5" ry="31"/><text y="-11.8">CL:0001019</text><text y="8.2">mononuclear</text><text y="18.2">odontoclast</text></g>
<g id="CL_0001018" class="g" transform="translate(1442,1089)"><ellipse rx="36.5" ry="31"/><text y="-11.8">CL:0001018</text><text y="8.2">multinuclear</text><text y="18.2">odontoclast</text></g>
<g id="CL_0000453" class="n" transform="translate(487,1188)"><ellipse rx="35.5" ry="31"/><text y="-11.8">CL:0000453</text><text y="8.2">Langerhans</text><text y="18.2">cell</text></g>
<g id="CL_0000580" class="n" transform="translate(599,1188)"><ellipse rx="36" ry="31"/><text y="-11.8">CL:0000580</text><text y="8.2">neutrophilic</text><text y="18.2">myelocyte</text></g>
<g id="CL_0000560" class="n" transform="translate(688,1188)"><ellipse rx="42" ry="31"/><text y="-11.8">CL:0000560</text><text y="8.2">band</text><text y="18.2">form neutrophil</text></g>
<g id="CL_0000582" class="n" transform="translate(781,1188)"><ellipse rx="40" ry="31"/><text y="-11.8">CL:0000582</text><text y="8.2">neutrophilic</text><text y="18.2">metamyelocyte</text></g>
<g id="CL_0000222_legend" class="n big" transform="translate(2764,1162)"><ellipse rx="41.5" ry="36.3"/><text y="-13.9">CL:0000222</text><text y="9.6">mesodermal</text><text y="21.3">cell</text></g>
<g id="legend_child" class="n" transform="translate(2764,1264)"><ellipse rx="41.5" ry="36.3"/></g>
</g>
</svg>
